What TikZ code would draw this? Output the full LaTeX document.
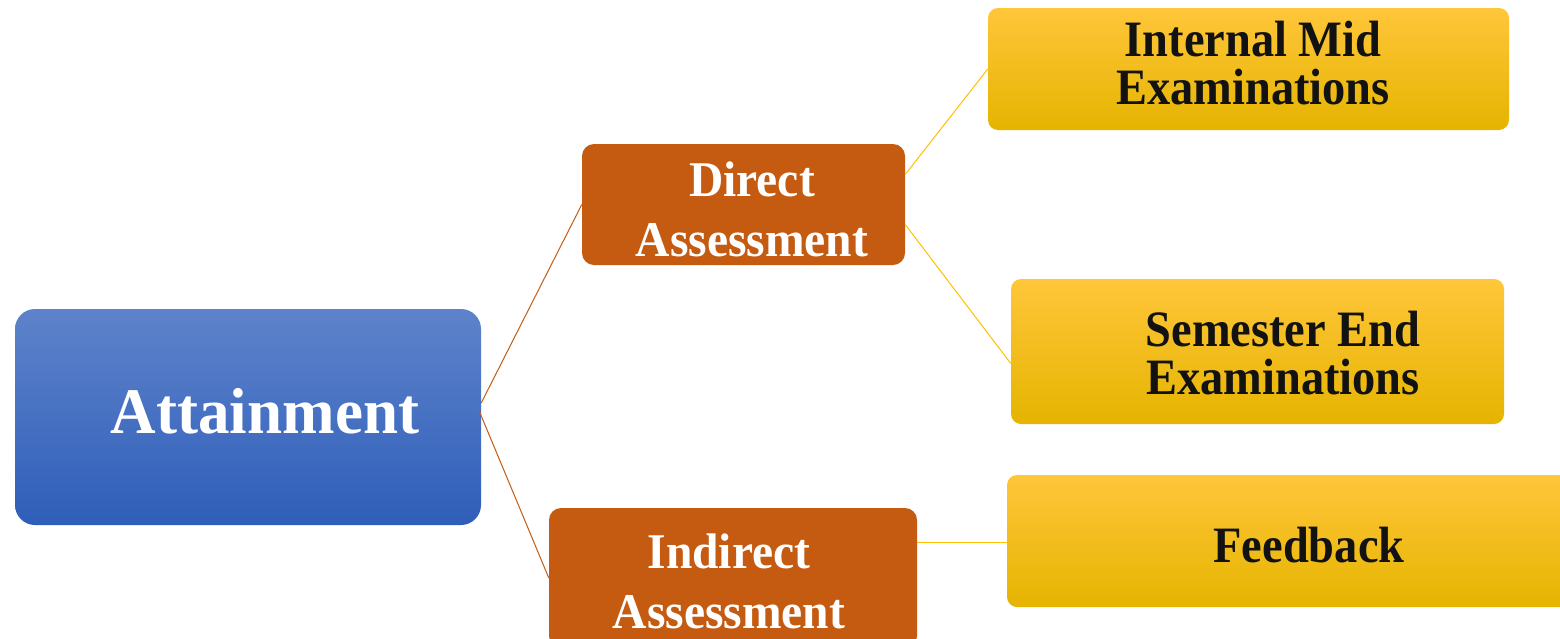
\documentclass[tikz,border=0pt]{standalone}
\usepackage{fontspec}
\usepackage{tikz}
\usetikzlibrary{calc}
\newfontfamily\bluefont[FakeStretch=0.97]{Liberation Serif Bold}
\newfontfamily\brownfont[FakeStretch=0.95]{Liberation Serif Bold}
\newfontfamily\yellowfont[FakeStretch=0.91]{Liberation Serif Bold}
\definecolor{blueTop}{RGB}{94,131,203}
\definecolor{blueBot}{RGB}{47,94,185}
\definecolor{rust}{RGB}{197,90,17}
\definecolor{goldTop}{RGB}{255,198,58}
\definecolor{goldMid}{RGB}{255,192,0}
\definecolor{goldBot}{RGB}{229,180,0}
\begin{document}
\begin{tikzpicture}[x=1pt,y=1pt,yscale=-1,xscale=1,
    bluebox/.style={rounded corners=20pt, top color=blueTop, bottom color=blueBot, draw=none, inner sep=0pt},
    rustbox/.style={rounded corners=12pt, fill=rust, draw=none, inner sep=0pt},
    goldbox/.style={rounded corners=10pt, top color=goldTop, middle color=goldMid, bottom color=goldBot, draw=none, inner sep=0pt},
    bluetext/.style={text=white, inner sep=0pt, font=\bluefont\fontsize{65}{70}\selectfont},
    rusttext/.style={text=white, inner sep=0pt, align=center, font=\brownfont\fontsize{50}{60}\selectfont},
    goldtext/.style={text=black!93, inner sep=0pt, align=center, font=\yellowfont\fontsize{51}{48}\selectfont},
    rustline/.style={draw=rust, line width=1pt},
    goldline/.style={draw=goldMid, line width=1pt}]
        \useasboundingbox (0,0) rectangle (1560,638);
        \clip (0,0) rectangle (1560,638);
        % boxes
        \node [bluebox, minimum width=466pt, minimum height=216pt] (att) at (248,417) {};
        \node [rustbox, minimum width=323pt, minimum height=121pt] (dir) at (743.5,204.5) {};
        \node [rustbox, minimum width=368pt, minimum height=140pt] (ind) at (733,578) {};
        \node [goldbox, minimum width=521pt, minimum height=122pt] (mid) at (1248.5,69) {};
        \node [goldbox, minimum width=493pt, minimum height=145pt] (sem) at (1257.5,351.5) {};
        \node [goldbox, minimum width=573pt, minimum height=132pt] (fb) at (1293.5,541) {};
        % texts
        \node [bluetext, anchor=base] (attT) at (265,433) {Attainment};
        \node [rusttext] (dirT) at (752,209) {Direct\\Assessment};
        \node [rusttext] (indT) at (729,581) {Indirect\\Assessment};
        \node [goldtext] (midT) at (1253,63) {Internal Mid\\Examinations};
        \node [goldtext] (semT) at (1283,353) {Semester End\\Examinations};
        \node [goldtext, anchor=base] (fbT) at (1309,562) {Feedback};
        % connectors
        \draw [rustline] ($(att.east)+(0,-14)$) -- (dir.west);
        \draw [rustline] ($(att.east)+(-2,-6)$) -- (ind.west);
        \draw [goldline] ($(dir.east)+(0,-30)$) -- (mid.west);
        \draw [goldline] ($(dir.east)+(0,20)$) -- ($(sem.west)+(0,12)$);
        \draw [goldline] ($(ind.east)+(0,-36)$) -- ($(fb.west)+(0,1)$);
\end{tikzpicture}
\end{document}
